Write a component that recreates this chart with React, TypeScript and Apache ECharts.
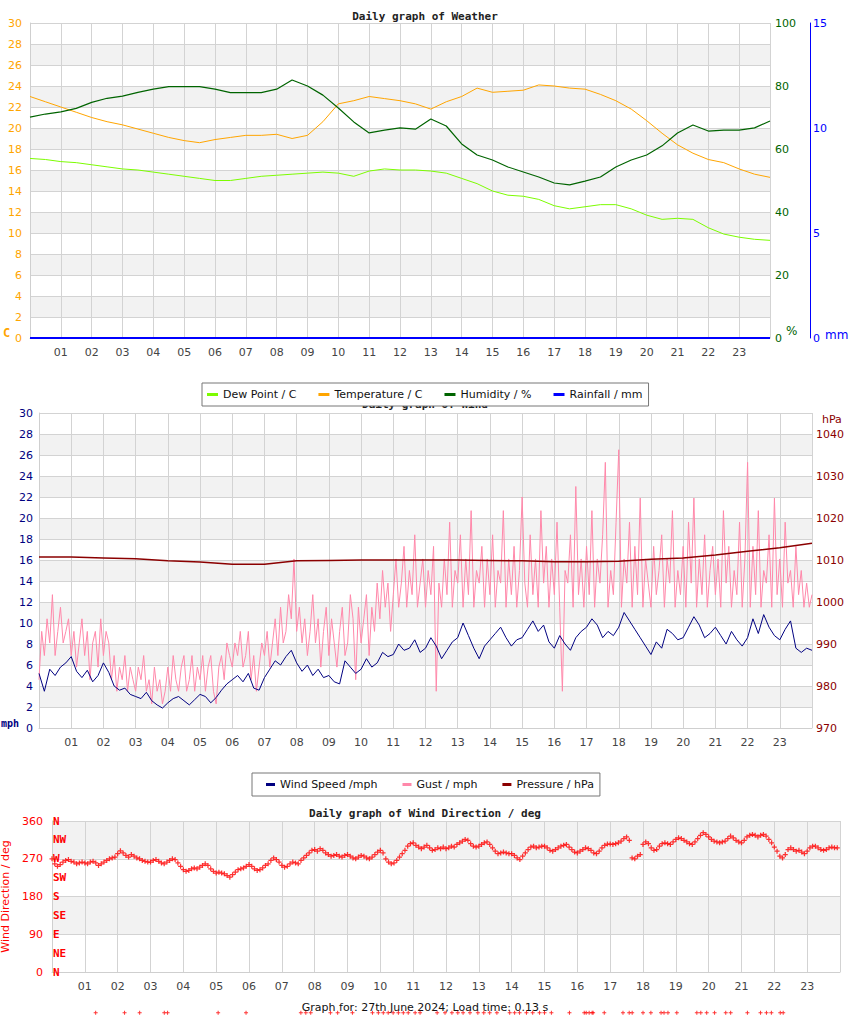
import React, { useEffect, useRef } from "react";
import * as echarts from "echarts";

// ---------- tick labels ----------
const hourLabels = ["01","02","03","04","05","06","07","08","09","10","11","12","13","14","15","16","17","18","19","20","21","22","23"];
const compassLabels: Record<number, string> = { 0: "N", 45: "NE", 90: "E", 135: "SE", 180: "S", 225: "SW", 270: "W", 315: "NW", 360: "N" };

// ---------- chart 1: weather (half-hourly) ----------
const temperature = [23.0,22.5,22.0,21.5,21.0,20.6,20.3,19.9,19.5,19.1,18.8,18.6,18.9,19.1,19.3,19.3,19.4,19.0,19.3,20.6,22.3,22.6,23.0,22.8,22.6,22.3,21.8,22.5,23.0,23.8,23.4,23.5,23.6,24.1,24.0,23.8,23.7,23.2,22.6,21.8,20.7,19.5,18.4,17.6,17.0,16.7,16.1,15.6,15.3];
const dewPoint = [17.1,17.0,16.8,16.7,16.5,16.3,16.1,16.0,15.8,15.6,15.4,15.2,15.0,15.0,15.2,15.4,15.5,15.6,15.7,15.8,15.7,15.4,15.9,16.1,16.0,16.0,15.9,15.7,15.2,14.7,14.0,13.6,13.5,13.2,12.6,12.3,12.5,12.7,12.7,12.3,11.7,11.3,11.4,11.3,10.5,9.9,9.6,9.4,9.3];
const humidity = [70.1,71.1,71.8,72.9,74.8,76.1,76.8,78.0,79.0,79.8,79.8,79.8,79.0,77.9,77.9,77.9,79.0,81.9,80.0,77.1,73.0,68.6,65.1,66.0,66.7,66.3,69.5,67.3,61.6,58.1,56.5,54.3,52.7,51.1,49.2,48.6,49.8,51.1,54.3,56.5,58.1,61.0,65.1,67.6,65.7,66.0,66.0,66.7,68.9];
// hourly
const rainfall = [0,0,0,0,0,0,0,0,0,0,0,0,0,0,0,0,0,0,0,0,0,0,0,0,0];

// ---------- chart 2: wind / pressure ----------
// hourly
const pressure = [1010.7,1010.7,1010.5,1010.3,1009.8,1009.5,1009.0,1009.0,1009.8,1009.9,1010.0,1010.0,1010.0,1010.0,1009.9,1009.8,1009.6,1009.6,1009.7,1010.2,1010.5,1011.2,1012.1,1012.9,1014.0];
// every 10 minutes
const windSpeed = [
  5.2,3.5,5.6,5.0,5.8,6.2, 6.8,5.4,4.8,5.5,4.4,5.0, 6.2,5.3,4.0,3.6,3.8,3.2, 3.0,2.8,3.4,2.6,2.2,1.9,
  2.4,2.8,3.0,2.6,2.2,2.7, 3.2,3.0,2.4,2.9,3.6,4.2, 4.6,5.0,4.4,5.2,3.8,3.6, 4.8,5.6,6.4,6.0,6.8,7.4,
  6.2,5.4,6.0,5.0,5.6,4.8, 5.0,4.4,4.2,6.4,5.8,5.2, 5.6,6.6,5.8,6.2,7.2,6.8, 7.0,8.0,7.4,7.6,8.4,7.2,
  7.6,8.6,7.8,6.6,7.4,8.2, 8.6,10.0,8.8,7.6,6.6,7.8, 8.4,9.0,9.6,8.6,7.8,8.4, 8.6,9.4,10.2,9.2,9.8,8.2,
  7.6,8.8,8.0,7.4,8.6,9.2, 9.6,10.4,9.8,8.6,9.2,8.8, 9.6,11.0,10.2,9.4,8.6,7.8, 7.0,8.2,7.6,9.4,9.0,8.4,
  8.6,9.6,10.6,9.8,8.6,9.0, 9.6,8.8,8.0,9.2,8.4,7.8, 8.6,10.4,9.0,10.8,9.6,8.8, 8.4,9.4,10.2,7.6,7.2,7.6,
  7.4
];
// every 5 minutes
const gust = [
  4.6,9.2,6.9,10.4,8.1,12.7,6.9,9.2,11.5,8.1,9.2,10.4,
  6.9,9.2,5.8,8.1,10.4,6.9,9.2,4.6,8.1,9.2,5.8,10.4,
  6.9,9.2,8.1,4.6,6.9,3.5,5.8,4.6,6.9,3.5,5.8,4.6,
  3.5,5.8,4.6,6.9,3.5,4.6,2.3,5.8,3.5,4.6,2.3,3.5,
  5.8,3.5,6.9,4.6,3.5,5.8,6.9,3.5,4.6,6.9,3.5,5.8,
  4.6,6.9,3.5,5.8,6.9,3.5,2.3,5.8,6.9,4.6,8.1,6.9,
  5.8,8.1,6.9,9.2,5.8,6.9,9.2,4.6,6.9,3.5,5.8,8.1,
  6.9,9.2,5.8,8.1,10.4,6.9,11.5,8.1,9.2,12.7,10.4,16.1,
  9.2,11.5,8.1,10.4,6.9,9.2,12.7,8.1,10.4,5.8,9.2,11.5,
  6.9,10.4,8.1,5.8,9.2,11.5,6.9,8.1,12.7,10.4,4.6,11.5,
  8.1,10.4,12.7,6.9,11.5,9.2,13.8,10.4,15.0,11.5,13.8,9.2,
  12.7,16.1,11.5,13.8,17.3,11.5,15.0,12.7,18.4,11.5,13.8,16.1,
  11.5,15.0,12.7,17.3,3.5,13.8,11.5,16.1,12.7,19.6,11.5,15.0,
  13.8,18.4,11.5,16.1,12.7,20.7,11.5,15.0,13.8,17.3,11.5,16.1,
  12.7,18.4,11.5,15.0,13.8,20.7,11.5,16.1,12.7,17.3,11.5,15.0,
  22.0,13.8,11.5,18.4,12.7,16.1,11.5,20.7,13.8,17.3,11.5,16.1,
  12.7,19.6,11.5,3.5,15.0,13.8,18.4,11.5,23.0,12.7,16.1,11.5,
  17.3,12.7,20.7,11.5,16.1,13.8,18.4,25.3,11.5,15.0,12.7,19.6,
  26.5,11.5,16.1,13.8,19.6,11.5,17.3,12.7,21.9,11.5,16.1,13.8,
  11.5,17.3,12.7,15.0,18.4,11.5,16.1,13.8,20.7,11.5,15.0,12.7,
  17.3,11.5,19.6,13.8,21.9,11.5,16.1,12.7,18.4,11.5,15.0,17.3,
  12.7,16.1,11.5,20.7,13.8,17.3,11.5,15.0,12.7,19.6,11.5,16.1,
  25.3,11.5,17.3,12.7,20.7,11.5,15.0,13.8,18.4,11.5,21.9,12.7,
  16.1,11.5,19.6,13.8,15.0,11.5,17.3,12.7,15.0,11.5,13.8,11.5,
  12.7
];

// ---------- chart 3: wind direction (every 5 minutes) ----------
const windDirection = [
  270,258,252,256,262,266,268,264,262,258,260,262,
  260,258,262,264,260,254,258,262,266,270,272,274,
  282,289,284,278,274,280,276,272,270,266,264,262,
  262,266,268,264,260,258,262,266,270,268,260,252,
  244,240,242,246,248,246,250,254,258,254,246,240,
  236,238,236,234,230,226,232,238,244,246,248,252,
  256,252,246,242,244,248,254,258,266,272,268,262,
  254,250,252,258,262,260,258,266,272,278,284,290,
  292,288,294,290,284,280,276,278,280,276,274,278,
  280,276,272,270,274,278,276,272,270,274,280,286,
  290,284,270,262,258,260,266,274,282,290,300,306,
  308,302,298,294,298,302,296,290,292,296,294,298,
  294,296,300,298,304,308,312,316,314,306,300,298,
  300,304,308,310,304,296,288,282,284,286,284,282,
  282,278,272,268,276,284,292,298,300,296,298,300,
  300,296,290,288,292,296,300,302,304,298,292,286,
  284,288,292,296,294,290,284,282,288,296,302,305,
  305,304,306,308,312,318,322,314,272,270,276,280,
  304,310,306,296,290,292,300,306,308,306,304,310,
  316,320,318,314,310,306,304,310,318,326,332,328,
  322,316,312,310,308,310,312,318,324,320,314,310,
  308,314,322,326,328,326,322,326,328,324,316,308,
  298,288,276,272,280,292,296,292,288,290,286,282,
  288,296,300,300,296,292,290,292,296,298,296,296
];
// odd points drawn below the direction plot
const strayHours = [1.33,2.21,2.67,3.42,3.52,5.06,5.91,7.58,7.73,7.88,8.48,8.70,9.15,9.76,9.94,10.09,10.24,10.39,10.55,10.70,10.85,11.06,11.21,11.73,11.97,12.18,12.36,12.52,12.73,12.97,13.15,13.33,13.55,13.94,14.09,14.24,14.45,14.64,14.85,15.0,15.21,15.76,16.21,16.27,16.36,16.45,16.48,16.82,17.39,17.58,17.67,18.0,18.24,18.55,18.64,18.76,19.03,19.64,19.76,19.94,20.18,20.52,20.67,21.18,21.58,21.76,21.91,22.18,22.27];
const strayLevel = -97;

function spread(values: number[], perHour: number) {
  return values.map((v, i) => [i / perHour, v]);
}

const GRID_LINE = { show: true, lineStyle: { color: "#d3d3d3", width: 1 } };
const BANDS = { show: true, areaStyle: { color: ["#ffffff", "#f2f2f2"] } };
const FONT = "DejaVu Sans";
const MONO = "DejaVu Sans Mono";
const PLUS = "path://M1.5,0H2.5V4H1.5ZM0,1.5H4V2.5H0Z";

function xAxisFor(gridIndex: number) {
  return {
    type: "value",
    gridIndex,
    min: 0,
    max: 24,
    interval: 1,
    axisLine: { show: true, onZero: false, lineStyle: { color: "#cfcfcf" } },
    axisTick: { show: false },
    splitLine: GRID_LINE,
    axisLabel: {
      color: "#444",
      fontSize: 11,
      fontFamily: FONT,
      margin: 9,
      formatter: (v: number) => (v >= 1 && v <= 23 ? hourLabels[v - 1] : ""),
    },
  };
}

const titleStyle = { fontFamily: MONO, fontSize: 11, fontWeight: "bold", color: "#222" };

export default function App() {
  const ref = useRef<HTMLDivElement>(null);
  useEffect(() => {
    if (!ref.current) return;
    const chart = echarts.init(ref.current, undefined, { renderer: "svg" });
    const option: any = {
      animation: false,
      backgroundColor: "#ffffff",
      title: [
        { text: "Daily graph of Weather", left: "center", top: 6, z: 1, textStyle: titleStyle },
        { text: "Daily graph of Wind", left: "center", top: 394, z: 1, textStyle: titleStyle },
        { text: "Daily graph of Wind Direction / deg", left: "center", top: 803, z: 1, textStyle: titleStyle },
        { text: "Graph for: 27th June 2024; Load time: 0.13 s", left: "center", top: 997, z: 1, textStyle: { fontFamily: FONT, fontSize: 11, fontWeight: "normal", color: "#111" } },
      ],
      legend: [
        {
          data: ["Dew Point / C", "Temperature / C", "Humidity / %", "Rainfall / mm"],
          left: 202, top: 383, z: 10,
          backgroundColor: "#ffffff", borderColor: "#777", borderWidth: 1, borderRadius: 0,
          padding: [6, 6, 6, 5], itemGap: 22, itemWidth: 11, itemHeight: 3, icon: "rect",
          textStyle: { fontFamily: FONT, fontSize: 11, color: "#111" },
          selectedMode: false,
        },
        {
          data: ["Wind Speed /mph", "Gust / mph", "Pressure / hPa"],
          left: 252, top: 773, z: 10,
          backgroundColor: "#ffffff", borderColor: "#777", borderWidth: 1, borderRadius: 0,
          padding: [6, 6, 6, 14], itemGap: 25, itemWidth: 9, itemHeight: 3, icon: "rect",
          textStyle: { fontFamily: FONT, fontSize: 11, color: "#111" },
          selectedMode: false,
        },
      ],
      grid: [
        { left: 30, top: 23, width: 740, height: 315, containLabel: false, outerBoundsMode: "none" },
        { left: 39, top: 413, width: 773, height: 315, containLabel: false, outerBoundsMode: "none" },
        { left: 52, top: 821, width: 788, height: 151, containLabel: false, outerBoundsMode: "none" },
      ],
      xAxis: [xAxisFor(0), xAxisFor(1), xAxisFor(2)],
      yAxis: [
        {
          type: "value", gridIndex: 0, min: 0, max: 30, interval: 2, position: "left",
          axisLine: { show: true, lineStyle: { color: "#cfcfcf" } }, axisTick: { show: false },
          splitLine: GRID_LINE, splitArea: BANDS,
          axisLabel: { color: "#ffa500", fontSize: 11, fontFamily: FONT, margin: 8 },
        },
        {
          type: "value", gridIndex: 0, min: 0, max: 100, interval: 20, position: "right",
          axisLine: { show: false }, axisTick: { show: false }, splitLine: { show: false },
          axisLabel: { color: "#006400", fontSize: 11, fontFamily: FONT, margin: 5 },
        },
        {
          type: "value", gridIndex: 0, min: 0, max: 15, interval: 5, position: "right", offset: 40,
          axisLine: { show: true, lineStyle: { color: "#0000ff", width: 1 } }, axisTick: { show: false }, splitLine: { show: false },
          axisLabel: { color: "#0000ff", fontSize: 11, fontFamily: FONT, margin: 3 },
        },
        {
          type: "value", gridIndex: 1, min: 0, max: 30, interval: 2, position: "left",
          axisLine: { show: true, lineStyle: { color: "#cfcfcf" } }, axisTick: { show: false },
          splitLine: GRID_LINE, splitArea: BANDS,
          axisLabel: { color: "#000080", fontSize: 11, fontFamily: FONT, margin: 6 },
        },
        {
          type: "value", gridIndex: 1, min: 970, max: 1045, interval: 10, position: "right",
          axisLine: { show: false }, axisTick: { show: false }, splitLine: { show: false },
          axisLabel: { color: "#8b0000", fontSize: 11, fontFamily: FONT, margin: 4, formatter: (v: number) => (v > 1040 ? "" : String(v)) },
        },
        {
          type: "value", gridIndex: 2, min: 0, max: 360, interval: 90, position: "left",
          axisLine: { show: true, lineStyle: { color: "#cfcfcf" } }, axisTick: { show: false },
          splitLine: GRID_LINE, splitArea: BANDS,
          axisLabel: { color: "#ff0000", fontSize: 11, fontFamily: FONT, margin: 9 },
          name: "Wind Direction / deg", nameLocation: "middle", nameGap: 36, nameRotate: 90,
          nameTextStyle: { color: "#ff0000", fontSize: 11, fontFamily: FONT },
        },
        {
          type: "value", gridIndex: 2, min: 0, max: 360, interval: 45, position: "left",
          axisLine: { show: false }, axisTick: { show: false }, splitLine: { show: false },
          axisLabel: {
            inside: true, margin: 1, color: "#ff0000", fontSize: 11, fontWeight: "bold", fontFamily: MONO,
            formatter: (v: number) => compassLabels[v] ?? "",
          },
        },
      ],
      series: [
        { name: "Dew Point / C", type: "line", xAxisIndex: 0, yAxisIndex: 0, data: spread(dewPoint, 2), showSymbol: false, lineStyle: { width: 1, color: "#7cfc00" }, itemStyle: { color: "#7cfc00" } },
        { name: "Temperature / C", type: "line", xAxisIndex: 0, yAxisIndex: 0, data: spread(temperature, 2), showSymbol: false, lineStyle: { width: 1, color: "#ffa500" }, itemStyle: { color: "#ffa500" } },
        { name: "Humidity / %", type: "line", xAxisIndex: 0, yAxisIndex: 1, data: spread(humidity, 2), showSymbol: false, lineStyle: { width: 1.2, color: "#006400" }, itemStyle: { color: "#006400" } },
        { name: "Rainfall / mm", type: "line", xAxisIndex: 0, yAxisIndex: 2, data: spread(rainfall, 1), showSymbol: false, lineStyle: { width: 2, color: "#0000ff" }, itemStyle: { color: "#0000ff" } },
        { name: "Gust / mph", type: "line", xAxisIndex: 1, yAxisIndex: 3, data: spread(gust, 12), showSymbol: false, lineStyle: { width: 1, color: "#ff88aa" }, itemStyle: { color: "#ff88aa" } },
        { name: "Wind Speed /mph", type: "line", xAxisIndex: 1, yAxisIndex: 3, data: spread(windSpeed, 6), showSymbol: false, lineStyle: { width: 1, color: "#000080" }, itemStyle: { color: "#000080" } },
        { name: "Pressure / hPa", type: "line", xAxisIndex: 1, yAxisIndex: 4, data: spread(pressure, 1), showSymbol: false, lineStyle: { width: 1.5, color: "#8b0000" }, itemStyle: { color: "#8b0000" } },
        { name: "Direction", type: "scatter", xAxisIndex: 2, yAxisIndex: 5, data: spread(windDirection, 12), symbol: PLUS, symbolSize: 5, itemStyle: { color: "#ff0000" } },
        { name: "Stray", type: "scatter", xAxisIndex: 2, yAxisIndex: 5, clip: false, data: strayHours.map((h) => [h, strayLevel]), symbol: PLUS, symbolSize: 4, itemStyle: { color: "#ff0000" } },
      ],
      graphic: [
        { type: "text", x: 3, y: 333, style: { text: "C", fill: "#ffa500", font: "bold 12px DejaVu Sans Mono", verticalAlign: "middle" } },
        { type: "text", x: 786, y: 331, style: { text: "%", fill: "#006400", font: "12px DejaVu Sans", verticalAlign: "middle" } },
        { type: "text", x: 825, y: 335, style: { text: "mm", fill: "#0000ff", font: "12px DejaVu Sans", verticalAlign: "middle" } },
        { type: "text", x: 1, y: 723, style: { text: "mph", fill: "#000080", font: "bold 10px DejaVu Sans Mono", verticalAlign: "middle" } },
        { type: "text", x: 822, y: 419, style: { text: "hPa", fill: "#8b0000", font: "11px DejaVu Sans", verticalAlign: "middle" } },
      ],
    };
    chart.setOption(option);
    return () => chart.dispose();
  }, []);
  return <div ref={ref} style={{ position: "absolute", left: 0, top: 0, width: 850, height: 1017 }} />;
}
